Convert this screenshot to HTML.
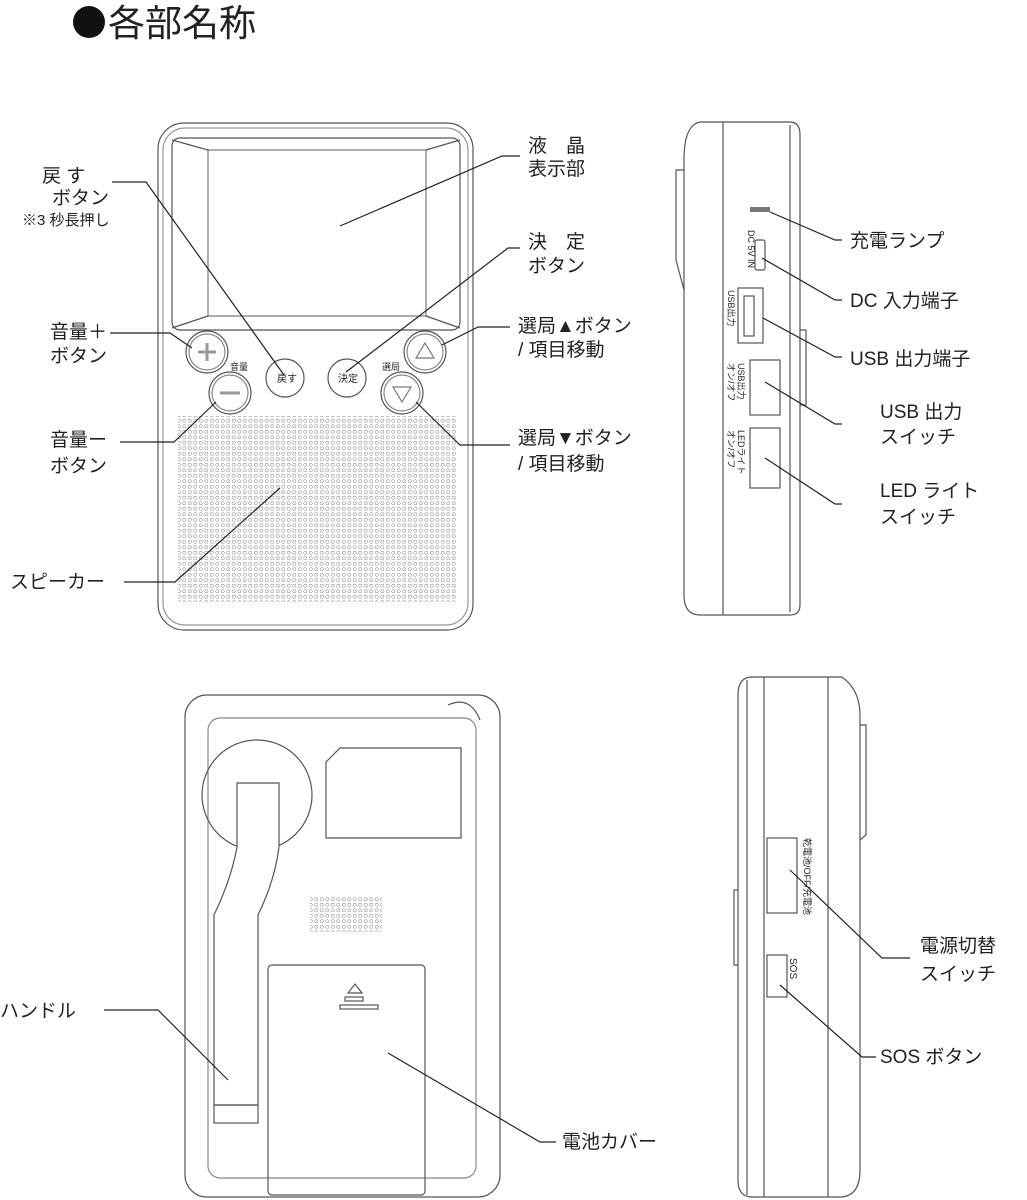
<!DOCTYPE html>
<html><head><meta charset="utf-8"><style>
html,body{margin:0;padding:0;background:#fff;}
svg{display:block;}
text{font-family:"Liberation Sans","Noto Sans CJK JP",sans-serif;fill:#222;}
.l{font-size:19px;}
</style></head><body>
<svg width="1027" height="1200" viewBox="0 0 1027 1200" xmlns="http://www.w3.org/2000/svg">
<defs>
<pattern id="dots" x="0" y="0" width="5.5" height="5.5" patternUnits="userSpaceOnUse">
<circle cx="2.75" cy="2.75" r="1.6" fill="none" stroke="#999" stroke-width="0.6"/>
</pattern>
</defs>
<circle cx="89" cy="22" r="16" fill="#111"/>
<text x="108" y="36" style="font-size:37px">各部名称</text>

<!-- FRONT DEVICE -->
<g fill="none" stroke="#555" stroke-width="1.2">
<rect x="158" y="123" width="315" height="507" rx="26"/>
<rect x="163" y="128" width="305" height="497" rx="22" stroke="#999"/>
<rect x="172" y="138" width="288" height="192" rx="8"/>
<rect x="208" y="150" width="218" height="166" stroke="#777"/>
<line x1="172" y1="140" x2="208" y2="150"/><line x1="460" y1="140" x2="426" y2="150"/>
<line x1="172" y1="328" x2="208" y2="316"/><line x1="460" y1="328" x2="426" y2="316"/>
<circle cx="207" cy="352" r="21"/><circle cx="207" cy="352" r="18" stroke="#888"/>
<circle cx="230" cy="393" r="21"/><circle cx="230" cy="393" r="18" stroke="#888"/>
<circle cx="285" cy="378" r="19"/>
<circle cx="347" cy="378" r="19"/>
<circle cx="425" cy="352" r="21"/><circle cx="425" cy="352" r="18" stroke="#888"/>
<circle cx="402" cy="393" r="21"/><circle cx="402" cy="393" r="18" stroke="#888"/>
<path d="M198 352h18M207 343v18" stroke="#999" stroke-width="3"/>
<path d="M220 393h20" stroke="#999" stroke-width="3"/>
<path d="M425 343l-9 15h18z" stroke="#777"/>
<path d="M402 402l-9 -15h18z" stroke="#777"/>
</g>
<rect x="178" y="416" width="278" height="186" fill="url(#dots)"/>
<text x="277" y="382" style="font-size:10px">戻す</text>
<text x="338" y="382" style="font-size:10px">決定</text>
<text x="230" y="370" style="font-size:9px">音量</text>
<text x="382" y="370" style="font-size:9px">選局</text>

<!-- front labels -->
<g fill="none" stroke="#222" stroke-width="1.2">
<path d="M112 182H146L284 375"/>
<path d="M520 156H502L340 226"/>
<path d="M520 248H508L346 372"/>
<path d="M510 327H478L442 345"/>
<path d="M510 445H460L416 402"/>
<path d="M110 333H170L192 348"/>
<path d="M120 442H174L216 402"/>
<path d="M124 582H175L280 488"/>
</g>
<text class="l" x="42" y="182">戻 す</text>
<text class="l" x="52" y="204">ボタン</text>
<text x="22" y="225" style="font-size:15px">※3 秒長押し</text>
<text class="l" x="528" y="152">液　晶</text>
<text class="l" x="528" y="175">表示部</text>
<text class="l" x="528" y="248">決　定</text>
<text class="l" x="528" y="272">ボタン</text>
<text class="l" x="518" y="332">選局▲ボタン</text>
<text class="l" x="518" y="356">/ 項目移動</text>
<text class="l" x="518" y="444">選局▼ボタン</text>
<text class="l" x="518" y="470">/ 項目移動</text>
<text class="l" x="50" y="338">音量＋</text>
<text class="l" x="50" y="362">ボタン</text>
<text class="l" x="50" y="446">音量ー</text>
<text class="l" x="50" y="472">ボタン</text>
<text class="l" x="10" y="588">スピーカー</text>

<!-- SIDE TOP -->
<g fill="none" stroke="#555" stroke-width="1.2">
<path d="M700 122H790Q800 122 800 135V605Q800 615 790 615H700Q684 615 684 595V160Q684 125 700 122Z"/>
<line x1="723" y1="122" x2="723" y2="615"/>
<line x1="790" y1="125" x2="790" y2="612"/>
<path d="M684 170H676V260L684 290" />
<rect x="755" y="240" width="10" height="30" rx="2"/>
<rect x="738" y="288" width="25" height="55"/>
<rect x="744" y="296" width="10" height="40"/>
<rect x="750" y="360" width="30" height="55"/>
<rect x="750" y="428" width="30" height="60"/>
<path d="M800 330H806V405H800"/>
</g>
<rect x="750" y="207" width="20" height="5" fill="#777"/>
<text transform="translate(748,230) rotate(90)" style="font-size:9px">DC 5V IN</text>
<text transform="translate(728,290) rotate(90)" style="font-size:9px">USB出力</text>
<text transform="translate(738,363) rotate(90)" style="font-size:9px">USB出力</text>
<text transform="translate(728,363) rotate(90)" style="font-size:9px">オン/オフ</text>
<text transform="translate(738,430) rotate(90)" style="font-size:9px">LEDライト</text>
<text transform="translate(728,430) rotate(90)" style="font-size:9px">オン/オフ</text>
<g fill="none" stroke="#222" stroke-width="1.2">
<path d="M842 240H835L770 212"/>
<path d="M842 300H835L762 258"/>
<path d="M842 357H835L763 318"/>
<path d="M842 424H835L765 382"/>
<path d="M842 504H835L765 458"/>
</g>
<text class="l" x="850" y="247">充電ランプ</text>
<text class="l" x="850" y="307">DC 入力端子</text>
<text class="l" x="850" y="365">USB 出力端子</text>
<text class="l" x="880" y="418">USB 出力</text>
<text class="l" x="880" y="443">スイッチ</text>
<text class="l" x="880" y="497">LED ライト</text>
<text class="l" x="880" y="523">スイッチ</text>

<!-- BACK DEVICE -->
<g fill="none" stroke="#555" stroke-width="1.2">
<rect x="185" y="695" width="315" height="502" rx="22"/>
<rect x="208" y="718" width="268" height="460" rx="12" stroke="#888"/>
<circle cx="257" cy="795" r="55"/>
<path d="M237 783H279V847Q275 880 258 915V1105H214V915Q231 880 237 847Z" fill="#fff"/>
<rect x="214" y="1105" width="44" height="18"/>
<path d="M340 748H461V838H326V762Z"/>
<rect x="268" y="965" width="157" height="230" rx="4"/>
<path d="M355 984l-7 9h14z"/>
<rect x="345" y="997" width="18" height="4"/>
<rect x="340" y="1005" width="38" height="4"/>
<path d="M448 705Q470 695 480 720" />
</g>
<rect x="310" y="896" width="72" height="36" fill="url(#dots)"/>
<g fill="none" stroke="#222" stroke-width="1.2">
<path d="M104 1010H158L228 1080"/>
<path d="M556 1142H540L388 1053"/>
</g>
<text class="l" x="0" y="1017">ハンドル</text>
<text class="l" x="562" y="1148">電池カバー</text>

<!-- SIDE BOTTOM -->
<g fill="none" stroke="#555" stroke-width="1.2">
<path d="M752 677H842Q860 690 860 715V1170Q860 1195 842 1197H752Q738 1197 738 1180V695Q738 677 752 677Z"/>
<line x1="747" y1="680" x2="747" y2="1195"/>
<line x1="764" y1="677" x2="764" y2="1197"/>
<line x1="828" y1="677" x2="828" y2="1197"/>
<path d="M860 725H866V835L860 840"/>
<rect x="767" y="838" width="30" height="75"/>
<rect x="767" y="955" width="20" height="42"/>
<path d="M738 890H734V965H738"/>
</g>
<text transform="translate(804,838) rotate(90)" style="font-size:9px">乾電池/OFF/充電池</text>
<text transform="translate(790,958) rotate(90)" style="font-size:10px">SOS</text>
<g fill="none" stroke="#222" stroke-width="1.2">
<path d="M910 958H882L790 870"/>
<path d="M876 1057H862L780 985"/>
</g>
<text class="l" x="920" y="952">電源切替</text>
<text class="l" x="920" y="980">スイッチ</text>
<text class="l" x="880" y="1063">SOS ボタン</text>
</svg>
</body></html>
